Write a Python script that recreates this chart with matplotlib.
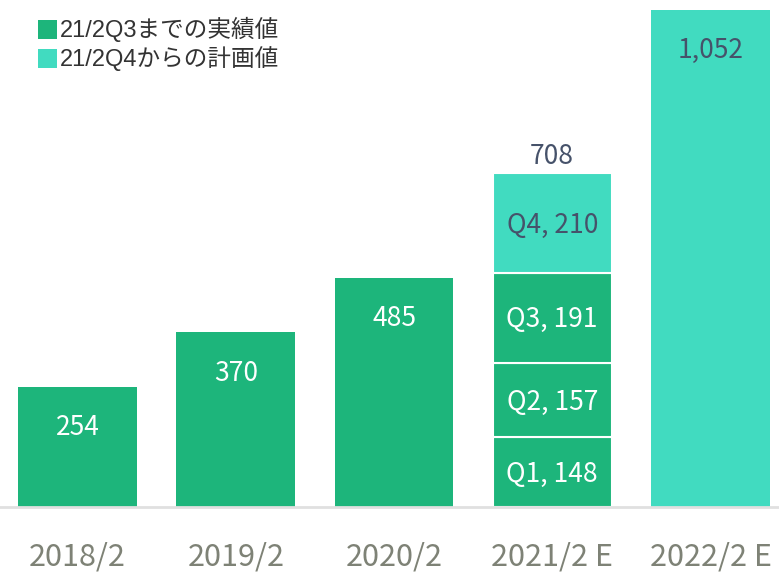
import numpy as np
import matplotlib
matplotlib.use('Agg')
import matplotlib.pyplot as plt
from matplotlib.patches import Rectangle

plt.rcParams['font.family'] = ['Noto Sans CJK JP', 'DejaVu Sans']

# データ
categories = ['2018/2', '2019/2', '2020/2', '2021/2 E', '2022/2 E']
annual = [254, 370, 485, None, 1052]
annual_plan = [False, False, False, False, True]
q_labels = ['Q1', 'Q2', 'Q3', 'Q4']
q_values = [148, 157, 191, 210]
q_plan = [False, False, False, True]
q_total = 708  # 表示上の合計(端数処理込み)
legend_labels = ['21/2Q3までの実績値', '21/2Q4からの計画値']

DARK = '#1db57b'
LIGHT = '#41dbc0'
SLATE = '#46526a'

fig = plt.figure(figsize=(7.79, 5.73), dpi=100, facecolor='white')
ax = fig.add_axes([0, 66 / 573, 1, 507 / 573])
x = np.arange(len(categories))
w = 0.75

# 年次バー
for i, (v, plan) in enumerate(zip(annual, annual_plan)):
    if v is None:
        continue
    ax.bar(x[i], v, width=w, color=LIGHT if plan else DARK, linewidth=0)
    ax.annotate(f'{v:,}', (x[i], v), xytext=(0, -41), textcoords='offset pixels',
                ha='center', va='center', fontsize=19,
                color=SLATE if plan else 'white')

# 四半期の積み上げ
idx = categories.index('2021/2 E')
bottom = 0
for lab, v, plan in zip(q_labels, q_values, q_plan):
    ax.bar(x[idx], v, width=w, bottom=bottom, color=LIGHT if plan else DARK,
           edgecolor='white', linewidth=1.5)
    ax.annotate(f'{lab}, {v}', (x[idx], bottom + v / 2), xytext=(0, -2),
                textcoords='offset pixels', ha='center', va='center',
                fontsize=19, color=SLATE if plan else 'white')
    bottom += v
ax.annotate(f'{q_total}', (x[idx], bottom), xytext=(0, 17), textcoords='offset pixels',
            ha='center', va='center', fontsize=19, color=SLATE)

ax.set_xlim(-0.49, 4.433)
ax.set_ylim(0, 1073)
ax.set_xticks(x)
ax.set_xticklabels(categories, fontsize=22, color='#7e8276')
ax.tick_params(axis='x', length=0, pad=25)
ax.set_yticks([])
for s in ['top', 'right', 'left']:
    ax.spines[s].set_visible(False)
ax.spines['bottom'].set_color('#e0e0e0')
ax.spines['bottom'].set_linewidth(2)

# 凡例
for k, (lab, col) in enumerate(zip(legend_labels, [DARK, LIGHT])):
    y0 = 1 - (20 + 29 * k) / 573
    fig.patches.append(Rectangle((38 / 779, y0 - 19 / 573), 19 / 779, 19 / 573,
                                 transform=fig.transFigure, facecolor=col, edgecolor='none'))
    fig.text(60 / 779, y0 - 9.5 / 573, lab, fontsize=17, color='#333333', va='center',
             family=['Liberation Sans', 'Noto Sans CJK JP'])

fig.savefig('out.png', dpi=100, facecolor='white')
